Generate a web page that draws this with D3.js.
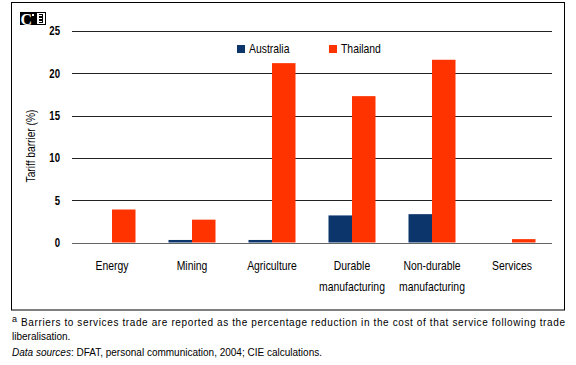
<!DOCTYPE html>
<html><head><meta charset="utf-8">
<script src="https://cdn.jsdelivr.net/npm/d3@7/dist/d3.min.js"></script>
<style>body{margin:0;background:#fff}svg{display:block}</style>
</head><body><svg id="c" width="576" height="365"></svg>
<script>
const categories = [["Energy"],["Mining"],["Agriculture"],["Durable","manufacturing"],["Non-durable","manufacturing"],["Services"]];
const seriesNames = ["Australia","Thailand"];
const australia = [0, 0.3, 0.3, 3.2, 3.35, 0];
const thailand = [3.9, 2.7, 21.2, 17.3, 21.6, 0.4];
const yTicks = [0,5,10,15,20,25];
const colors = ["#0b356b","#ff3300"];

const svg = d3.select("#c");
const ff = "Arial,'Liberation Sans',sans-serif";
const SX = 0.8;
const L=72,R=552,T=31,B=242.5;
const x = d3.scaleBand().domain(d3.range(categories.length)).range([L,R]);
const y = d3.scaleLinear().domain([0,25]).range([B,T]);

function ntext(parent, px, py, str, opts={}) {
  return parent.append("text")
    .attr("transform",`translate(${px},${py}) scale(${SX},1)`)
    .attr("text-anchor",opts.anchor||"start")
    .attr("font-family",ff).attr("font-size",opts.size||13)
    .attr("font-weight",opts.weight||"normal").attr("fill","#000").text(str);
}

// frame
svg.append("rect").attr("x",11.5).attr("y",2.5).attr("width",553).attr("height",307.5)
  .attr("fill","none").attr("stroke","#000").attr("stroke-width",1);

// logo
svg.append("rect").attr("x",20).attr("y",12).attr("width",26).attr("height",13).attr("fill","#000");
svg.append("text").attr("x",20.5).attr("y",24.5).attr("fill","#fff").attr("font-family","Liberation Serif,serif")
  .attr("font-size",16).attr("font-weight","bold").text("C");
svg.append("rect").attr("x",32).attr("y",14).attr("width",2).attr("height",2).attr("fill","#fff");
svg.append("rect").attr("x",37).attr("y",13).attr("width",8).attr("height",11).attr("fill","#fff");
svg.append("rect").attr("x",39).attr("y",14).attr("width",4).attr("height",9).attr("fill","#000");
svg.append("rect").attr("x",39).attr("y",15).attr("width",3).attr("height",1).attr("fill","#fff");
svg.append("rect").attr("x",39).attr("y",18).attr("width",3).attr("height",1).attr("fill","#fff");
svg.append("rect").attr("x",39).attr("y",21).attr("width",3).attr("height",1).attr("fill","#fff");

// y axis via d3 axis, then restyle labels narrow
const yAxis = d3.axisLeft(y).tickValues(yTicks).tickSize(0).tickPadding(12);
const ga = svg.append("g").attr("transform",`translate(${L},0)`).call(yAxis);
ga.select(".domain").remove();
ga.selectAll(".tick text").attr("font-family",ff).attr("font-size",12).attr("font-weight","bold")
  .attr("fill","#000").attr("x",0).attr("dy","0.32em")
  .attr("transform",`translate(-12,0) scale(${SX},1)`);

// gridlines
svg.append("g").selectAll("line").data(yTicks).join("line")
  .attr("x1",L).attr("x2",R).attr("y1",d=>Math.round(y(d))+0.5).attr("y2",d=>Math.round(y(d))+0.5)
  .attr("stroke",d=>d===0?"#666":"#222").attr("stroke-width",1);

// bars
const bw = 23.5;
const g = svg.append("g");
[australia,thailand].forEach((vals,si)=>{
  g.selectAll(null).data(vals).join("rect")
    .attr("x",(d,i)=>x(i)+x.bandwidth()/2 + (si===0?-bw:0))
    .attr("width",bw)
    .attr("y",d=>y(d)).attr("height",d=>y(0)-y(d))
    .attr("fill",colors[si]);
});

// category labels
const cg = svg.append("g");
categories.forEach((lines,i)=>{
  lines.forEach((t,j)=>{
    ntext(cg, x(i)+x.bandwidth()/2, 270+j*21, t, {anchor:"middle", size:13});
  });
});

// y title
svg.append("text").attr("transform","translate(35,146) rotate(-90) scale(0.85,1)").attr("text-anchor","middle")
  .attr("font-family",ff).attr("font-size",12).attr("fill","#000").text("Tariff barrier (%)");

// legend
const lx=[237,329];
seriesNames.forEach((n,i)=>{
  svg.append("rect").attr("x",lx[i]).attr("y",45).attr("width",8).attr("height",8).attr("fill",colors[i]);
  ntext(svg, lx[i]+12, 52.5, n, {size:13});
});

// footnotes
svg.append("text").attr("x",12).attr("y",322).attr("font-family",ff).attr("font-size",9).attr("fill","#000").text("a");
svg.append("text").attr("x",21).attr("y",326).attr("font-family",ff).attr("font-size",10).attr("fill","#000")
  .attr("textLength",544).attr("lengthAdjust","spacing")
  .text("Barriers to services trade are reported as the percentage reduction in the cost of that service following trade");
svg.append("text").attr("x",12).attr("y",340).attr("font-family",ff).attr("font-size",10).attr("fill","#000").text("liberalisation.");
const ds = svg.append("text").attr("x",12).attr("y",356).attr("font-family",ff).attr("font-size",10).attr("fill","#000");
ds.append("tspan").attr("font-style","italic").text("Data sources");
ds.append("tspan").text(": DFAT, personal communication, 2004; CIE calculations.");
</script></body></html>
